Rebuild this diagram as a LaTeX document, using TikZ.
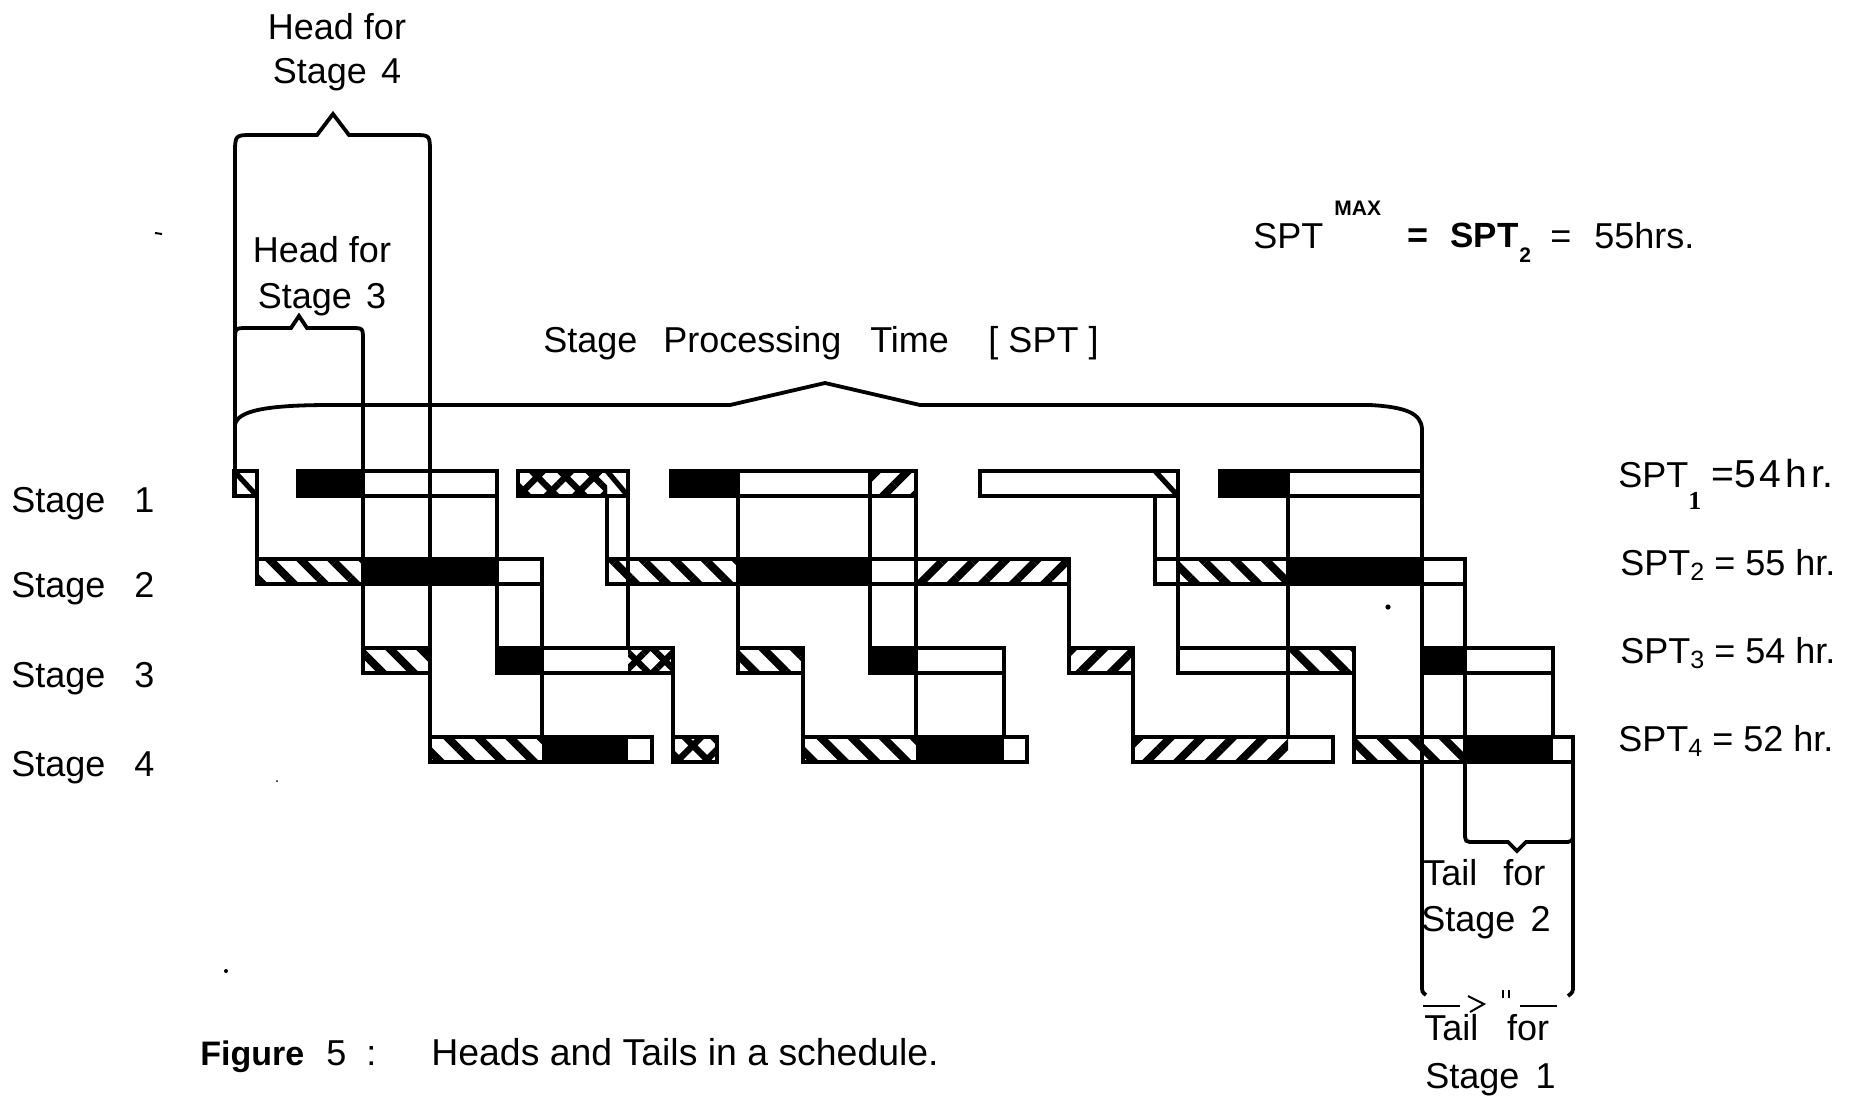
\documentclass[tikz,border=0pt]{standalone}
\usepackage{fontspec}
\setmainfont{Liberation Sans}
\newfontfamily\seriffont{Liberation Serif}
\usetikzlibrary{patterns.meta}
\tikzset{
 ln/.style={line width=1.9pt},
 hb/.style={pattern={Lines[angle=-45,distance=11pt,line width=4pt]}},
 hf/.style={pattern={Lines[angle=45,distance=11pt,line width=4pt]}},
 xa/.style={pattern={Lines[angle=45,distance=10pt,line width=3.2pt]}},
 xb/.style={pattern={Lines[angle=-45,distance=10pt,line width=3.2pt]}},
 txt/.style={inner sep=0pt, anchor=base west, font=\fontsize{18pt}{22pt}\selectfont},
 ctxt/.style={txt, anchor=base},
}
\newcommand\cellB[3]{\fill[black] (#1,#3) rectangle (#2,#3+25);}
\newcommand\cellH[3]{\path[hb] (#1,#3) rectangle (#2,#3+25);}
\newcommand\cellF[3]{\path[hf] (#1,#3) rectangle (#2,#3+25);}
\newcommand\cellX[3]{\path[xa] (#1,#3) rectangle (#2,#3+25);\path[xb] (#1,#3) rectangle (#2,#3+25);}
\newcommand\cellD[3]{\draw[line width=2.6pt] (#1,#3) -- (#2,#3+25);}
\newcommand\barO[3]{\draw[ln] (#1,#3) rectangle (#2,#3+25);}
\newcommand\vlin[3]{\draw[ln] (#1,#2) -- (#1,#3);}
\newcommand\subx[1]{\raisebox{-2.5pt}{\fontsize{12.5pt}{13pt}\selectfont #1}}
\begin{document}
\begin{tikzpicture}[x=0.5pt,y=-0.5pt]
\fill[white] (0,0) rectangle (1861,1099);
\useasboundingbox (0,0) rectangle (1861,1099);
% ---------- cell fills
% row 1
\cellD{234}{257}{471}
\cellB{298}{363}{471}
\cellX{518}{607}{471}
\cellD{607}{628}{471}
\cellB{671}{738}{471}
\cellF{870}{916}{471}
\cellD{1155}{1178}{471}
\cellB{1220}{1288}{471}
% row 2
\cellH{257}{363}{559}
\cellB{363}{497}{559}
\cellH{607}{738}{559}
\cellB{738}{870}{559}
\cellF{916}{1069}{559}
\cellH{1178}{1288}{559}
\cellB{1288}{1422}{559}
% row 3
\cellH{363}{430}{648}
\cellB{497}{542}{648}
\cellX{628}{673}{648}
\cellH{738}{803}{648}
\cellB{870}{916}{648}
\cellF{1069}{1133}{648}
\cellH{1288}{1354}{648}
\cellB{1422}{1465}{648}
% row 4
\cellH{430}{542}{737}
\cellB{542}{628}{737}
\cellX{673}{717}{737}
\cellH{803}{916}{737}
\cellB{916}{1004}{737}
\cellF{1133}{1288}{737}
\cellH{1354}{1465}{737}
\cellB{1465}{1553}{737}
% ---------- bar outlines
\barO{234}{257}{471}\barO{298}{497}{471}\barO{518}{628}{471}
\barO{671}{916}{471}\barO{980}{1178}{471}\barO{1220}{1422}{471}
\barO{257}{542}{559}\barO{607}{1069}{559}\barO{1155}{1465}{559}
\barO{363}{430}{648}\barO{497}{673}{648}\barO{738}{803}{648}
\barO{870}{1004}{648}\barO{1069}{1133}{648}\barO{1178}{1354}{648}
\barO{1422}{1553}{648}
\barO{430}{652}{737}\barO{673}{717}{737}\barO{803}{1027}{737}
\barO{1133}{1333}{737}\barO{1354}{1573}{737}
% ---------- vertical links
\vlin{257}{496}{559}
\vlin{497}{471}{648}
\vlin{542}{559}{737}
\vlin{607}{496}{559}
\vlin{628}{471}{648}
\vlin{673}{673}{737}
\vlin{738}{471}{648}
\vlin{803}{673}{737}
\vlin{870}{471}{648}
\vlin{916}{471}{737}
\vlin{1004}{673}{737}
\vlin{1069}{584}{648}
\vlin{1133}{673}{737}
\vlin{1155}{496}{559}
\vlin{1178}{471}{648}
\vlin{1288}{471}{737}
\vlin{1354}{673}{737}
\vlin{1553}{673}{737}
% ---------- braces
% head for stage 4
\draw[ln] (235,496) -- (235,155) .. controls (235,135) .. (252,135) -- (317,135) -- (333,114) -- (349,135) -- (414,135) .. controls (430,135) .. (430,153) -- (430,737);
% head for stage 3
\draw[ln] (235,405) -- (235,342) .. controls (235,328) .. (247,328) -- (291,328) -- (299,316) -- (307,328) -- (351,328) .. controls (363,328) .. (363,340) -- (363,648);
% stage processing time
\draw[ln] (235,425) .. controls (237,411) and (265,405) .. (330,405) -- (730,405) -- (825,383) -- (920,405) -- (1370,405) .. controls (1405,407) and (1422,413) .. (1422,430) -- (1422,985) .. controls (1422,992) .. (1426,995);
% tail for stage 2
\draw[ln] (1465,559) -- (1465,832) .. controls (1465,842) .. (1475,842) -- (1508,842) -- (1517,851) -- (1526,842) -- (1562,842) .. controls (1573,842) .. (1573,832);
\draw[ln] (1573,737) -- (1573,985) .. controls (1573,992) .. (1568,996);
% tail for stage 1 bottom marks
\draw[line width=1pt] (1423,1006) -- (1460,1006);
\draw[line width=1pt] (1520,1006) -- (1557,1006);
\draw[line width=1pt] (1468,996) -- (1484,1004) -- (1470,1012);
\draw[line width=1pt] (1503,990) -- (1503,998) (1509,990) -- (1509,998);
% specks
\fill (1388,607) circle (1.3pt);
\fill (226,971) circle (1pt);
\fill (277,781) circle (0.5pt);
\draw[line width=1pt] (155,233) -- (162,234);
% ---------- texts
\node[ctxt] (h4a) at (337,39) {Head for};
\node[ctxt] (h4b) at (337,83) {Stage\hspace{0.4em}4};
\node[ctxt] (h3a) at (322,262) {Head for};
\node[ctxt] (h3b) at (322,308) {Stage\hspace{0.4em}3};
\node[txt] (spt) at (543,352) {Stage\hspace{0.72em}Processing\hspace{0.8em}Time\hspace{1.1em}[ SPT ]};
\node[txt] (s1) at (11,512) {Stage\hspace{0.8em}1};
\node[txt] (s2) at (11,597) {Stage\hspace{0.8em}2};
\node[txt] (s3) at (11,687) {Stage\hspace{0.8em}3};
\node[txt] (s4) at (11,776) {Stage\hspace{0.8em}4};
% right labels
\node[txt] (p1a) at (1618,487) {SPT};
\node[txt, font={\seriffont\bfseries\fontsize{13pt}{14pt}\selectfont}] (p1b) at (1688,509) {1};
\node[txt, font=\fontsize{19.5pt}{22pt}\selectfont] (p1c) at (1711,487) {=5\kern2pt4\kern2pt h\kern2pt r.};
\node[txt] (p2) at (1620,575) {SPT\subx{2} = 55 hr.};
\node[txt] (p3) at (1620,663) {SPT\subx{3} = 54 hr.};
\node[txt] (p4) at (1618,751) {SPT\subx{4} = 52 hr.};
% top formula
\node[txt] (m1) at (1253,248) {SPT};
\node[txt, font={\bfseries\fontsize{10.5pt}{12pt}\selectfont}] (m2) at (1334,215) {MAX};
\node[txt] (m3) at (1407,247) {\textbf{=}};
\node[txt, font={\bfseries\fontsize{17.5pt}{20pt}\selectfont}] (m4) at (1450,247) {SPT};
\node[txt, font={\bfseries\fontsize{10.5pt}{12pt}\selectfont}] (m5) at (1519,262) {2};
\node[txt] (m6) at (1550,248) {=};
\node[txt] (m7) at (1594,248) {55hrs.};
% tails
\node[txt] (t2a) at (1423,885) {Tail\hspace{0.72em}for};
\node[txt] (t2b) at (1421,931) {Stage\hspace{0.42em}2};
\node[txt] (t1a) at (1424,1040) {Tail\hspace{0.8em}for};
\node[txt] (t1b) at (1425,1088) {Stage\hspace{0.45em}1};
% caption
\node[txt, font={\bfseries\fontsize{17pt}{20pt}\selectfont}] (c1) at (200,1065) {Figure};
\node[txt] (c2) at (326,1065) {5};
\node[txt] (c3) at (366,1065) {:};
\node[txt, font=\fontsize{18.7pt}{22pt}\selectfont] (c4) at (431,1065) {Heads and Tails in a schedule.};
\end{tikzpicture}
\end{document}
